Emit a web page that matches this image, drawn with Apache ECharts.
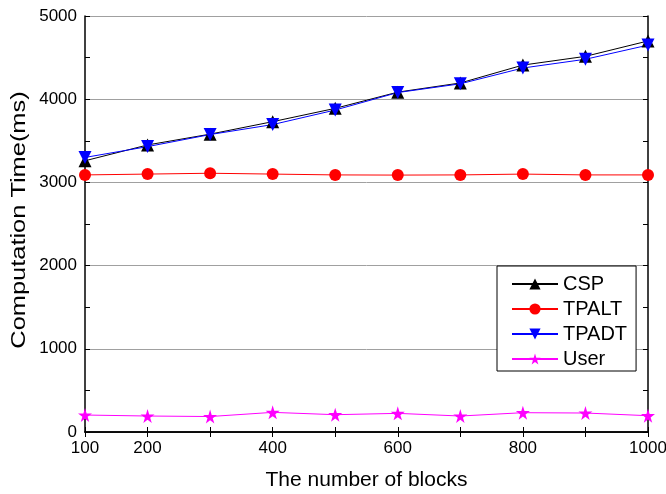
<!DOCTYPE html>
<html><head><meta charset="utf-8">
<script src="https://cdn.jsdelivr.net/npm/echarts@6/dist/echarts.min.js"></script>
<style>html,body{margin:0;padding:0;background:#fff}#c{width:666px;height:494px}</style>
</head><body><div id="c"></div>
<script>
const blocks = [100,200,300,400,500,600,700,800,900,1000];
const csp   = [3260,3450,3580,3730,3890,4085,4195,4410,4515,4700];
const tpalt = [3090,3100,3110,3100,3090,3088,3090,3100,3090,3090];
const tpadt = [3300,3430,3575,3695,3870,4080,4185,4375,4480,4650];
const user  = [204,192,186,236,208,224,192,232,228,196];
const xLabels = [100,200,400,600,800,1000];
const yTitle = 'Computation Time(ms)';
const xTitle = 'The number of blocks';

const star = 'path://M50,0 L61,35 L98,35 L68,57 L79,91 L50,70 L21,91 L32,57 L2,35 L39,35 Z';
const font = 'Liberation Sans';
function pairs(v){ return blocks.map((b,i)=>[b,v[i]]); }

const chart = echarts.init(document.getElementById('c'));
const axisLine = {show:true, lineStyle:{color:'#000', width:1.5}};
chart.setOption({
  animation:false,
  grid:{left:85, right:18, top:16, bottom:62, containLabel:false, outerBoundsMode:'none'},
  legend:{
    orient:'vertical', left:497, top:266,
    padding:[8,9,2,14], itemGap:5, itemWidth:46, itemHeight:14,
    borderColor:'#000', borderWidth:1, backgroundColor:'#fff',
    textStyle:{fontFamily:font, fontSize:20, color:'#000'},
    data:['CSP','TPALT','TPADT','User']
  },
  graphic:[{
    type:'text', x:19, y:220, rotation:Math.PI/2, scaleX:1.27,
    style:{text:yTitle, font:'20px "Liberation Sans"', fill:'#000',
      textAlign:'center', textVerticalAlign:'middle'}
  }],
  xAxis:[{
    type:'value', min:100, max:1000, interval:100,
    name:xTitle, nameLocation:'middle', nameGap:38,
    nameTextStyle:{fontFamily:font, fontSize:21, color:'#000'},
    axisLine:axisLine,
    axisTick:{inside:true, length:5, lineStyle:{color:'#000'}},
    axisLabel:{fontFamily:font, fontSize:17, color:'#000', margin:8,
      formatter:v=> xLabels.indexOf(v)>=0 ? String(v) : ''},
    splitLine:{show:false}
  },{
    type:'value', position:'top', min:100, max:1000, interval:100,
    axisLine:axisLine,
    axisTick:{inside:true, length:5, lineStyle:{color:'#000'}},
    axisLabel:{show:false}, splitLine:{show:false}
  }],
  yAxis:[{
    type:'value', min:0, max:5000, interval:1000,
    axisLine:axisLine,
    axisTick:{inside:true, length:5, lineStyle:{color:'#000'}},
    minorTick:{show:true, splitNumber:2, length:5, lineStyle:{color:'#000'}},
    axisLabel:{fontFamily:font, fontSize:17, color:'#000', margin:8, formatter:v=>String(v)},
    splitLine:{show:true, lineStyle:{color:'#a0a0a0', width:1}}
  },{
    type:'value', position:'right', min:0, max:5000, interval:1000,
    axisLine:axisLine,
    axisTick:{inside:true, length:5, lineStyle:{color:'#000'}},
    minorTick:{show:true, splitNumber:2, length:5, lineStyle:{color:'#000'}},
    axisLabel:{show:false}, splitLine:{show:false}
  }],
  series:[
    {name:'CSP', type:'line', data:pairs(csp), symbol:'triangle', symbolSize:13,
     itemStyle:{color:'#000'}, lineStyle:{color:'#000', width:1}},
    {name:'TPALT', type:'line', data:pairs(tpalt), symbol:'circle', symbolSize:12,
     itemStyle:{color:'#ff0000'}, lineStyle:{color:'#ff0000', width:1}},
    {name:'TPADT', type:'line', data:pairs(tpadt), symbol:'triangle', symbolRotate:180, symbolSize:13,
     itemStyle:{color:'#0000ff'}, lineStyle:{color:'#0000ff', width:1}},
    {name:'User', type:'line', data:pairs(user), symbol:star, symbolSize:14,
     itemStyle:{color:'#ff00ff'}, lineStyle:{color:'#ff00ff', width:1}}
  ]
});
</script></body></html>
